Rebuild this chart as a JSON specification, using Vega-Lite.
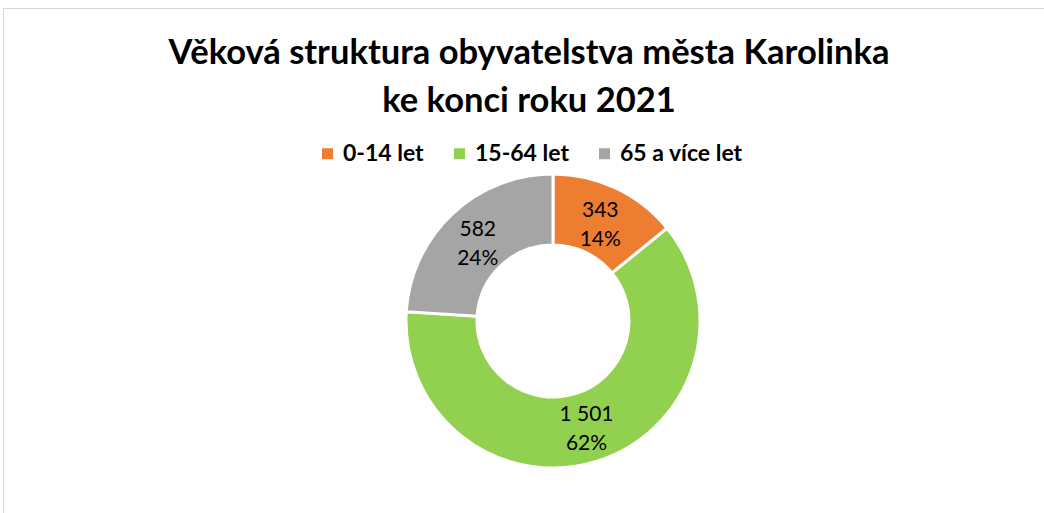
{
  "$schema": "https://vega.github.io/schema/vega-lite/v6.json",
  "autosize": "none",
  "width": 1100,
  "height": 626,
  "padding": {"left": 3, "top": 8, "right": 0, "bottom": 0},
  "background": "white",
  "view": {"stroke": "#d4d4d4", "strokeWidth": 1, "fill": null},
  "config": {
    "view": {"stroke": "#d4d4d4", "strokeWidth": 1},
    "font": "Lato"
  },
  "title": {
    "text": ["Věková struktura obyvatelstva města Karolinka", "ke konci roku 2021"],
    "orient": "top",
    "anchor": "middle",
    "frame": "group",
    "baseline": "alphabetic",
    "offset": -138,
    "dx": -24,
    "font": "Lato",
    "fontSize": 34.5,
    "fontWeight": "bold",
    "color": "#000000",
    "lineHeight": 48
  },
  "data": {
    "values": [
      {"group": "0-14 let", "count": 343, "label": "343\n14%"},
      {"group": "15-64 let", "count": 1501, "label": "1 501\n62%"},
      {"group": "65 a více let", "count": 582, "label": "582\n24%"}
    ]
  },
  "encoding": {
    "theta": {"field": "count", "type": "quantitative", "stack": true},
    "order": {"field": "group", "type": "ordinal"}
  },
  "layer": [
    {
      "mark": {"type": "arc", "outerRadius": 147, "innerRadius": 76, "stroke": "white", "strokeWidth": 3},
      "encoding": {
        "color": {
          "field": "group",
          "type": "nominal",
          "scale": {"domain": ["0-14 let", "15-64 let", "65 a více let"], "range": ["#ED7D31", "#92D050", "#A5A5A5"]},
          "legend": {
            "title": null,
            "orient": "none",
            "direction": "horizontal",
            "legendX": 313,
            "legendY": 134,
            "symbolType": "square",
            "symbolSize": 121,
            "symbolStrokeWidth": 0,
            "labelFont": "Lato",
            "labelFontSize": 23,
            "labelFontWeight": "bold",
            "labelColor": "#000000",
            "labelOffset": 4,
            "columnPadding": 24,
            "padding": 0
          }
        }
      }
    },
    {
      "mark": {"type": "text", "radius": 110, "dy": -11, "font": "Lato", "fontSize": 21, "lineBreak": "\n", "lineHeight": 29, "baseline": "middle"},
      "encoding": {
        "text": {"field": "label", "type": "nominal"},
        "detail": {"field": "group", "type": "nominal"},
        "color": {"value": "#000000"}
      }
    }
  ]
}
